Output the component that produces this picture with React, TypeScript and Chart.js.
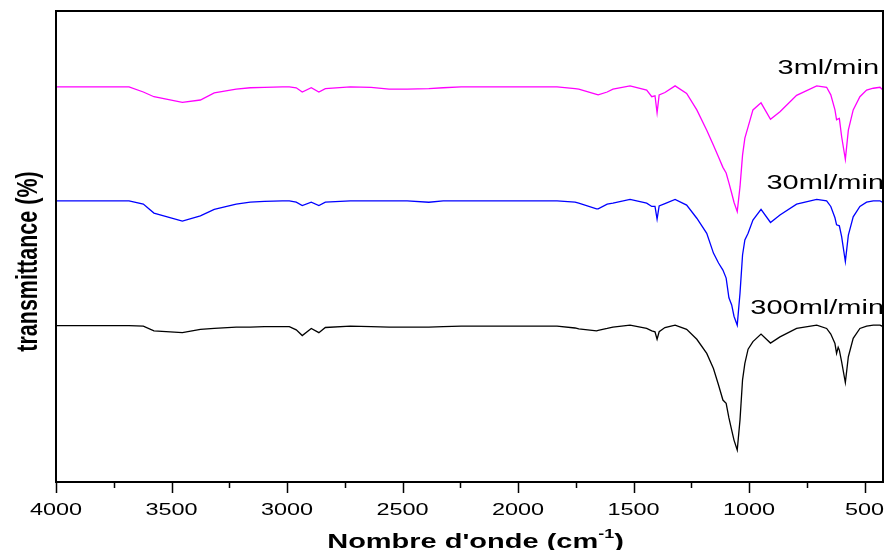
import React, { useEffect, useRef } from "react";
import { Chart, registerables } from "chart.js";

Chart.register(...registerables);

// Wavenumbers (cm-1), shared by all three spectra
const wavenumbers = [
  4000, 3684, 3622, 3576, 3453, 3375, 3315, 3220, 3159, 3098,
  3020, 2990, 2960, 2934, 2895, 2862, 2834, 2726, 2636, 2558,
  2480, 2386, 2324, 2246, 1861, 1831, 1753, 1737, 1660, 1653,
  1614, 1589, 1515, 1443, 1421, 1407, 1398, 1389, 1364, 1320,
  1270, 1226, 1183, 1154, 1132, 1113, 1099, 1087, 1075, 1065,
  1051, 1039, 1028, 1018, 1004, 983, 948, 907, 866, 794,
  707, 664, 646, 628, 621, 614, 609, 599, 583, 570,
  549, 520, 491, 462, 433, 420,
];

// Transmittance (arbitrary, offset for display)
const series3 = [
  83.9, 83.9, 82.8, 81.8, 80.6, 81.1, 82.6, 83.4, 83.7, 83.8,
  83.9, 83.9, 83.7, 82.8, 83.7, 82.8, 83.5, 83.9, 83.8, 83.4,
  83.4, 83.5, 83.7, 83.9, 83.9, 83.9, 83.5, 83.4, 82.3, 82.2,
  82.8, 83.4, 84.1, 83.2, 81.8, 82.0, 78.4, 82.2, 82.7, 84.1,
  82.5, 79.0, 74.7, 71.5, 69.0, 66.8, 65.6, 63.5, 61.3, 59.4,
  57.4, 62.7, 69.4, 73.0, 75.4, 79.0, 80.5, 77.0, 78.6, 82.1,
  84.1, 83.8, 82.2, 79.0, 76.9, 77.1, 77.2, 73.3, 68.5, 74.7,
  79.0, 81.8, 83.2, 83.6, 83.8, 83.2,
];

const series30 = [
  59.7, 59.7, 59.0, 57.1, 55.4, 56.5, 57.9, 59.0, 59.4, 59.6,
  59.7, 59.7, 59.4, 58.7, 59.4, 58.7, 59.4, 59.7, 59.7, 59.7,
  59.7, 59.4, 59.7, 59.7, 59.7, 59.7, 59.4, 59.2, 58.0, 58.0,
  59.0, 59.2, 60.0, 59.2, 58.5, 58.5, 55.8, 58.6, 59.1, 60.0,
  58.8, 56.0, 52.8, 48.6, 46.5, 45.0, 43.3, 39.1, 37.6, 35.2,
  33.3, 40.1, 48.2, 51.4, 52.8, 55.6, 57.9, 55.1, 56.7, 59.0,
  60.0, 59.7, 58.5, 56.1, 54.6, 54.5, 54.4, 52.1, 46.8, 52.4,
  56.3, 58.5, 59.4, 59.7, 59.7, 59.3,
];

const series300 = [
  33.2, 33.2, 33.1, 32.1, 31.7, 32.4, 32.6, 32.9, 32.9, 33.0,
  33.0, 33.0, 32.3, 31.1, 32.6, 31.7, 32.8, 33.1, 33.0, 32.9,
  32.9, 32.9, 33.0, 33.1, 33.1, 33.1, 32.7, 32.5, 32.1, 32.2,
  32.6, 32.9, 33.3, 32.6, 32.1, 31.9, 30.3, 31.9, 32.8, 33.3,
  32.4, 30.3, 27.3, 24.1, 20.6, 17.4, 16.7, 13.6, 11.0, 8.9,
  6.8, 13.2, 21.7, 25.2, 28.2, 29.8, 31.4, 29.5, 30.8, 32.6,
  33.3, 32.6, 31.4, 29.4, 27.3, 28.6, 28.0, 25.5, 21.1, 26.6,
  30.5, 32.6, 33.1, 33.3, 33.3, 33.0,
];

const seriesNames = ["3ml/min", "30ml/min", "300ml/min"];
const seriesColors = ["#ff00ff", "#0000ff", "#000000"];
const labelLevels = [88.3, 63.8, 37.2];

const majorTicks = [4000, 3500, 3000, 2500, 2000, 1500, 1000, 500];
const minorTicks = [3750, 3250, 2750, 2250, 1750, 1250, 750];

const xTitle = "Nombre d'onde (cm";
const xTitleSup = "-1";
const yTitle = "transmittance (%)";

const FONT = '"Liberation Sans", Arial, sans-serif';
const SX = 1.38;

function drawStretched(
  ctx: CanvasRenderingContext2D,
  text: string,
  x: number,
  y: number,
  font: string,
  align: CanvasTextAlign
) {
  ctx.save();
  ctx.font = font;
  ctx.textAlign = align;
  ctx.textBaseline = "alphabetic";
  ctx.translate(x, y);
  ctx.scale(SX, 1);
  ctx.fillText(text, 0, 0);
  ctx.restore();
}

const decorPlugin = {
  id: "decor",
  afterDraw(chart: any) {
    const ctx: CanvasRenderingContext2D = chart.ctx;
    const { left, right, top, bottom } = chart.chartArea;
    const xs = chart.scales.x;
    const ys = chart.scales.y;
    ctx.save();
    ctx.fillStyle = "#000";
    ctx.strokeStyle = "#000";

    // series labels
    const labelFont = `21px ${FONT}`;
    seriesNames.forEach((name, i) => {
      const yy = ys.getPixelForValue(labelLevels[i]);
      drawStretched(ctx, name, right - 2 + (i === 0 ? -2 : 3), yy + 7.5, labelFont, "right");
    });

    // frame
    ctx.lineWidth = 2;
    ctx.strokeRect(left, top, right - left, bottom - top);

    // ticks
    ctx.lineWidth = 1.5;
    ctx.beginPath();
    majorTicks.forEach((v) => {
      const px = Math.round(xs.getPixelForValue(v)) + 0.5;
      ctx.moveTo(px, bottom);
      ctx.lineTo(px, bottom + 11);
    });
    minorTicks.forEach((v) => {
      const px = Math.round(xs.getPixelForValue(v)) + 0.5;
      ctx.moveTo(px, bottom);
      ctx.lineTo(px, bottom + 6);
    });
    ctx.stroke();

    // tick labels
    const tickFont = `17px ${FONT}`;
    majorTicks.forEach((v) => {
      const px = xs.getPixelForValue(v);
      drawStretched(ctx, String(v), px, bottom + 33, tickFont, "center");
    });

    // x title with superscript
    const mainFont = `bold 21px ${FONT}`;
    const supFont = `bold 13px ${FONT}`;
    ctx.save();
    const cx = (left + right) / 2 + 6;
    const by = bottom + 66;
    ctx.translate(cx, by);
    ctx.scale(SX, 1);
    ctx.textBaseline = "alphabetic";
    ctx.textAlign = "left";
    ctx.font = mainFont;
    const w1 = ctx.measureText(xTitle).width;
    const w3 = ctx.measureText(")").width;
    ctx.font = supFont;
    const w2 = ctx.measureText(xTitleSup).width;
    let sx = -(w1 + w2 + w3) / 2;
    ctx.font = mainFont;
    ctx.fillText(xTitle, sx, 0);
    sx += w1;
    ctx.font = supFont;
    ctx.fillText(xTitleSup, sx, -10);
    sx += w2;
    ctx.font = mainFont;
    ctx.fillText(")", sx, 0);
    ctx.restore();

    // y title
    ctx.save();
    ctx.translate(29, (top + bottom) / 2 + 15);
    ctx.rotate(-Math.PI / 2);
    ctx.scale(1, SX);
    ctx.font = `bold 21.5px ${FONT}`;
    ctx.textAlign = "center";
    ctx.textBaseline = "middle";
    ctx.fillText(yTitle, 0, 0);
    ctx.restore();

    ctx.restore();
  },
};

export default function App() {
  const ref = useRef<HTMLCanvasElement>(null);
  useEffect(() => {
    if (!ref.current) return;
    const allSeries = [series3, series30, series300];
    const chart = new Chart(ref.current, {
      type: "line",
      data: {
        datasets: allSeries.map((s, i) => ({
          label: seriesNames[i],
          data: wavenumbers.map((w, k) => ({ x: w, y: s[k] })),
          borderColor: seriesColors[i],
          borderWidth: 1.3,
          pointRadius: 0,
          tension: 0,
          fill: false,
        })),
      },
      options: {
        responsive: false,
        animation: false,
        layout: { padding: { left: 56, right: 2, top: 11, bottom: 68 } },
        scales: {
          x: { type: "linear", reverse: true, min: 420, max: 4000, display: false },
          y: { type: "linear", min: 0, max: 100, display: false },
        },
        plugins: { legend: { display: false }, tooltip: { enabled: false } },
      },
      plugins: [decorPlugin],
    });
    return () => chart.destroy();
  }, []);
  return (
    <div style={{ position: "absolute", left: 0, top: 0, width: 885, height: 550, background: "#fff" }}>
      <canvas ref={ref} width={885} height={550} style={{ display: "block" }} />
    </div>
  );
}
